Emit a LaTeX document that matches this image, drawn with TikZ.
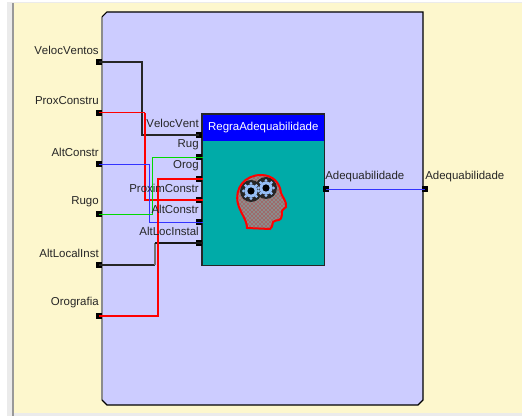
\documentclass[tikz,border=0pt]{standalone}
\usepackage{fontspec}
\setmainfont[Kerning=Off]{Liberation Sans}
\usetikzlibrary{patterns}
\definecolor{cream}{RGB}{253,247,205}
\definecolor{lav}{RGB}{204,204,255}
\definecolor{teal2}{RGB}{0,171,168}
\definecolor{gearb}{RGB}{150,190,245}
\tikzset{
  x=0.75pt,y=-0.75pt,
  port/.style={draw=none,fill=black,minimum width=4.5pt,minimum height=4.5pt,inner sep=0pt,outer sep=0pt},
  lbl/.style={font=\fontsize{8.6}{10}\selectfont,text=black!85,inner sep=0pt},
  wireK/.style={draw=black!85,line width=1.1pt},
  wireR/.style={draw=red,line width=1.2pt},
  wireRt/.style={draw=red,line width=.75pt},
  wireB/.style={draw=blue!80!white,line width=.65pt},
  wireG/.style={draw=green!85!black,line width=.65pt},
}
\newcommand{\gearshape}[2]{%
  \foreach \a in {0,45,...,315}{\fill[gearb] (#1,#2) ++(\a:7.6) circle (1.6);}
  \fill[gearb] (#1,#2) circle (6.6);
  \fill[black] (#1,#2) circle (3.6);
}
\begin{document}
\begin{tikzpicture}
\useasboundingbox (0,0) rectangle (522,416);
\fill[white] (0,0) rectangle (522,416);
\fill[black!8] (7,2) rectangle (522,416);
\fill[cream] (14,3) rectangle (522,413);
\fill[black!40] (11.5,3) rectangle (14,416);
% outer block
\fill[lav] (107,12) -- (423,12) -- (423,400) -- (418,405) -- (107,405) -- (102,400) -- (102,17) -- cycle;
\draw[black!45,line width=.8pt] (102,400) -- (102,17);
\draw[black,line width=.8pt] (102,17) -- (107,12) -- (423,12) -- (423,400) -- (418,405) -- (107,405) -- (102,400);
% inner block
\node[draw=none,fill=teal2,minimum width=91.5pt,minimum height=113.25pt,inner sep=0pt,anchor=north west] (rule) at (202,114) {};
\node[fill=blue,minimum width=91.5pt,minimum height=20.25pt,inner sep=0pt,anchor=north west,text=white,font=\fontsize{8.6}{10}\selectfont] (hdr) at (202,114) {RegraAdequabilidade};
\draw[black!85,line width=.9pt] (rule.north west) rectangle (rule.south east);
% ports
\node[port] (i1) at (99,62) {};
\node[port] (i2) at (99,113) {};
\node[port] (i3) at (99,164) {};
\node[port] (i4) at (99,214) {};
\node[port] (i5) at (99,265) {};
\node[port] (i6) at (99,316) {};
\node[port] (r1) at (199,135) {};
\node[port] (r2) at (199,157) {};
\node[port] (r3) at (199,179) {};
\node[port] (r4) at (199,200) {};
\node[port] (r5) at (199,222) {};
\node[port] (r6) at (199,243) {};
\node[port] (o1) at (326,189) {};
\node[port] (o2) at (425,189) {};
% bend columns
\coordinate (c1) at (142,0);
\coordinate (c2) at (145,0);
\coordinate (c3) at (149,0);
\coordinate (c4) at (152,0);
\coordinate (c5) at (155,0);
\coordinate (c6) at (158,0);
\coordinate (e) at (203,0);
% wires
\draw[wireK] (i1.center) -- (i1.center -| c1) -- (r1.center -| c1) -- (r1.center);
\draw[wireRt] (i2.center) -- (i2.center -| c2);
\draw[wireR] (i2.center -| c2) -- (r4.center -| c2) -- (r4.center -| e);
\draw[wireB] (i3.center) -- (i3.center -| c3) -- (r5.center -| c3) -- (r5.center -| e);
\draw[wireG] (i4.center) -- (i4.center -| c4) -- (r2.center -| c4) -- (r2.center -| e);
\draw[wireK] (i5.center) -- (i5.center -| c5);
\draw[black!55,line width=.9pt] (i5.center -| c5) -- (r6.center -| c5);
\draw[black!90,line width=.9pt] (r6.center -| c5) -- (r6.center -| e);
\draw[wireR] (i6.center) -- (i6.center -| c6) -- (r3.center -| c6) -- (r3.center -| e);
\draw[blue!80!white,line width=.7pt] (o1.center) -- (o2.center);
% labels
\node[lbl,anchor=east] (l1) at (99,50) {VelocVentos};
\node[lbl,anchor=east] (l2) at (99,101) {ProxConstru};
\node[lbl,anchor=east] (l3) at (99,152) {AltConstr};
\node[lbl,anchor=east] (l4) at (99,202) {Rugo};
\node[lbl,anchor=east] (l5) at (99,253) {AltLocalInst};
\node[lbl,anchor=east] (l6) at (99,303) {Orografia};
\node[lbl,anchor=east] (m1) at (199,123) {VelocVent};
\node[lbl,anchor=east] (m2) at (199,145) {Rug};
\node[lbl,anchor=east] (m3) at (199,166) {Orog};
\node[lbl,anchor=east] (m4) at (199,188) {ProximConstr};
\node[lbl,anchor=east] (m5) at (199,209) {AltConstr};
\node[lbl,anchor=east] (m6) at (199,231) {AltLocInstal};
\node[lbl,anchor=west] (n1) at (325,177) {Adequabilidade};
\node[lbl,anchor=west] (n2) at (425,177) {Adequabilidade};
% head icon
\def\headpath{(247,228) .. controls (247,220) and (240,212) .. (238,204)
  .. controls (234,188) and (245,175) .. (261,175)
  .. controls (273,175) and (280,183) .. (281,193)
  .. controls (283,198) and (287,202) .. (286,207)
  .. controls (285,209) and (282,209) .. (282,211)
  .. controls (282,215) and (282,219) .. (279,220)
  .. controls (277,221) and (274,220) .. (273,222)
  .. controls (272,226) and (272,228) .. (270,229) -- cycle}
\fill[black!45] \headpath;
\fill[pattern=crosshatch dots,pattern color=red!85!black] \headpath;
\begin{scope}
\clip \headpath;
\fill[black!85] (251,191) circle (11);
\fill[black!85] (266,188) circle (11);
\end{scope}
\draw[red,line width=1.5pt] \headpath;
\gearshape{251}{191}
\gearshape{266}{188}
\end{tikzpicture}
\end{document}
